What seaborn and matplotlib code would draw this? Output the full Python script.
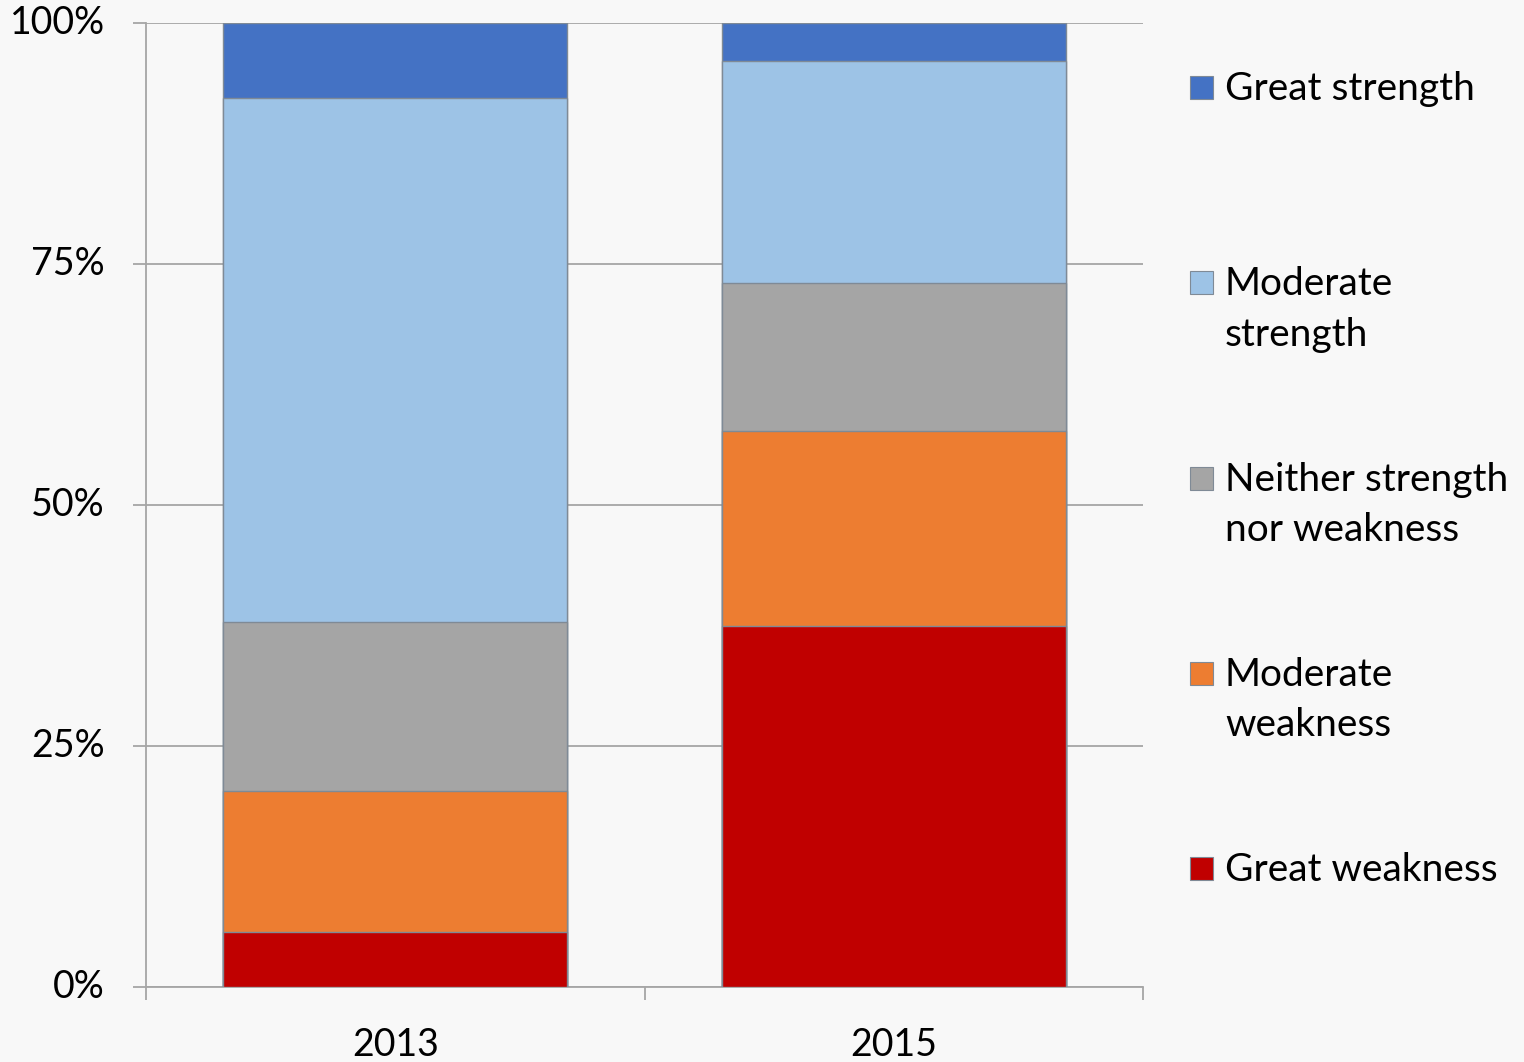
import numpy as np
import pandas as pd
import matplotlib
matplotlib.use("Agg")
import matplotlib.pyplot as plt
import matplotlib.patches as mpatches
from matplotlib.ticker import FixedLocator, PercentFormatter
import seaborn as sns

years = ["2013", "2015"]
categories = ["Great weakness", "Moderate weakness", "Neither strength nor weakness",
              "Moderate strength", "Great strength"]
legend_labels = ["Great weakness", "Moderate\nweakness", "Neither strength\nnor weakness",
                 "Moderate\nstrength", "Great strength"]
great_weakness = [5.7, 37.4]
moderate_weakness = [14.6, 20.3]
neither = [17.6, 15.3]
moderate_strength = [54.3, 23.1]
great_strength = [7.8, 3.9]
colors = ["#C00000", "#ED7D31", "#A5A5A5", "#9DC3E6", "#4472C4"]

sns.set_theme(style="white")
plt.rcParams["font.family"] = ["Lato", "DejaVu Sans"]
bg = "#F8F8F8"

df = pd.DataFrame({
    "Year": years,
    categories[0]: great_weakness,
    categories[1]: moderate_weakness,
    categories[2]: neither,
    categories[3]: moderate_strength,
    categories[4]: great_strength,
})
cum = df[categories].cumsum(axis=1)
cum["Year"] = df["Year"]

fig = plt.figure(figsize=(15.24, 10.62), dpi=100, facecolor=bg)
ax = fig.add_axes([146 / 1524, 75 / 1062, (1143 - 146) / 1524, (987 - 23) / 1062])
ax.set_facecolor(bg)

# draw the stack from the top down so each smaller bar sits over the larger one
for cat, col in reversed(list(zip(categories, colors))):
    sns.barplot(data=cum, x="Year", y=cat, order=years, color=col, saturation=1,
                width=0.69, edgecolor="#7F8A96", linewidth=1.0, ax=ax, zorder=3)

ax.set_xlim(-0.5, 1.5)
ax.set_ylim(0, 100)
ax.yaxis.set_major_locator(FixedLocator([0, 25, 50, 75, 100]))
ax.yaxis.set_major_formatter(PercentFormatter(decimals=0))
ax.grid(axis="y", color="#A6A6A6", linewidth=1.3, zorder=0)
ax.set_axisbelow(True)
ax.set_xlabel("")
ax.set_ylabel("")

for s in ["top", "right"]:
    ax.spines[s].set_visible(False)
for s in ["left", "bottom"]:
    ax.spines[s].set_color("#A6A6A6")
    ax.spines[s].set_linewidth(1.3)

ax.xaxis.set_minor_locator(FixedLocator([-0.5, 0.5, 1.5]))
ax.tick_params(axis="x", which="major", length=0, pad=29, labelsize=27, labelcolor="black")
ax.tick_params(axis="x", which="minor", bottom=True, length=9.5, width=1.3, color="#A6A6A6")
ax.tick_params(axis="y", which="major", left=True, length=9.5, width=1.3, color="#A6A6A6",
               pad=20, labelsize=27, labelcolor="black")
for lab in ax.get_yticklabels():
    lab.set_verticalalignment("center")

# legend on the right, one entry per layer, top entry first
for i, (lab, col) in enumerate(reversed(list(zip(legend_labels, colors)))):
    y_px = 87 + i * 195.3
    fig.patches.append(mpatches.Rectangle(
        (1190 / 1524, 1 - (y_px + 12) / 1062), 23 / 1524, 23 / 1062,
        transform=fig.transFigure, facecolor=col, edgecolor="#7F8A96", linewidth=0.8))
    fig.text(1225 / 1524, 1 - (y_px - 16) / 1062, lab, fontsize=28, color="black",
             va="top", ha="left", linespacing=1.5)

fig.savefig("out.png", dpi=100, facecolor=bg)
